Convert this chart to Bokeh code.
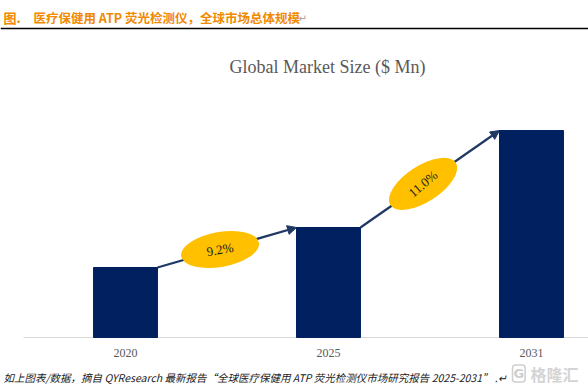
from bokeh.plotting import figure
from bokeh.models import Range1d, Arrow, NormalHead, ColumnDataSource, Label, Span
from bokeh.core.properties import value
from bokeh.embed import file_html
from bokeh.resources import INLINE

# ---- data ----
years = ["2020", "2025", "2031"]
market_size = [70, 110, 207]          # relative bar heights
cagr_labels = ["9.2%", "11.0%"]

header_num = "图."
header_text = "医疗保健用 ATP 荧光检测仪，全球市场总体规模"
chart_title = "Global Market Size ($ Mn)"
footer_text = "如上图表/数据，摘自 QYResearch 最新报告\u201c全球医疗保健用 ATP 荧光检测仪市场研究报告 2025-2031\u201d ."

NAVY = "#002060"
ARROW = "#1F3864"
GOLD = "#FFC000"
ORANGE = "#F08A00"
GREY = "#595959"
SERIF = "Liberation Serif"
CJK = "Noto Sans CJK SC"

W, H = 588, 389
p = figure(width=W, height=H,
           x_range=Range1d(-0.6158, 2.2808), y_range=Range1d(-52, 337),
           x_axis_type=None, y_axis_type=None,
           toolbar_location=None, output_backend="svg",
           min_border=0, outline_line_color=None)
p.background_fill_color = "white"

xs = list(range(len(years)))
bar_w = 0.315

# baseline
p.segment(x0=[-0.5025], y0=[0], x1=[2.2808], y1=[0], line_color="#D9D9D9", line_width=1.2)

# bars
p.vbar(x=xs, top=market_size, bottom=0, width=bar_w, fill_color=NAVY, line_color=NAVY)

# arrows between bars
x0 = [xs[i] + bar_w / 2 for i in range(len(xs) - 1)]
y0 = [market_size[i] for i in range(len(xs) - 1)]
x1 = [xs[i + 1] - bar_w / 2 for i in range(len(xs) - 1)]
y1 = [market_size[i + 1] for i in range(len(xs) - 1)]
asrc = ColumnDataSource(dict(x0=x0, y0=y0, x1=x1, y1=y1))
p.add_layout(Arrow(end=NormalHead(size=9, fill_color=ARROW, line_color=ARROW),
                   source=asrc, x_start="x0", y_start="y0", x_end="x1", y_end="y1",
                   line_color=ARROW, line_width=2.2, level="underlay"))

# CAGR ellipses
cx = [a + 0.45 * (b - a) for a, b in zip(x0, x1)]
cy = [a + 0.45 * (b - a) for a, b in zip(y0, y1)]
p.ellipse(x=cx, y=cy, width=[79, 78], height=[35, 36], angle=[10, 33], angle_units="deg",
          width_units="screen", height_units="screen", fill_color=GOLD, line_color=None)
p.text(x=cx, y=cy, text=cagr_labels, angle=[10, 40], angle_units="deg",
       text_align="center", text_baseline="middle", text_font=value(SERIF),
       text_font_size="13px", text_color="#1a1a1a")

# category labels
p.text(x=xs, y=[-15] * len(xs), text=years, text_align="center", text_baseline="middle",
       text_font=value(SERIF), text_font_size="12px", text_color=GREY)

# header and rule
p.add_layout(Label(x=3, y=372, x_units="screen", y_units="screen", text=header_num,
                   text_font=CJK, text_font_size="13px", text_font_style="bold",
                   text_color=ORANGE, text_baseline="middle"))
p.add_layout(Label(x=33, y=372, x_units="screen", y_units="screen", text=header_text,
                   text_font=CJK, text_font_size="12.5px", text_font_style="bold",
                   text_color=ORANGE, text_baseline="middle"))
p.add_layout(Label(x=298, y=371, x_units="screen", y_units="screen", text="\u21b5",
                   text_font="DejaVu Sans", text_font_size="10px",
                   text_color="#A0A0A0", text_baseline="middle"))
p.add_layout(Span(location=309, dimension="width", line_color="black", line_width=1.5))

# chart title
p.add_layout(Label(x=327, y=323, x_units="screen", y_units="screen", text=chart_title,
                   text_font=SERIF, text_font_size="18px", text_color=GREY,
                   text_align="center", text_baseline="middle"))

# footer
p.add_layout(Label(x=3, y=12, x_units="screen", y_units="screen", text=footer_text + "\u21b5",
                   text_font=CJK, text_font_size="10.5px", text_font_style="italic",
                   text_color="#222222", text_baseline="middle"))

# watermark
p.add_layout(Label(x=512, y=16, x_units="screen", y_units="screen", text="G",
                   text_font="DejaVu Sans", text_font_size="13px", text_font_style="bold",
                   text_color="#CFCFCF", text_baseline="middle",
                   border_line_color="#CFCFCF", border_line_width=1.5, border_radius=3, padding=1))
p.add_layout(Label(x=530, y=16, x_units="screen", y_units="screen", text="格隆汇",
                   text_font=CJK, text_font_size="16px", text_font_style="bold",
                   text_color="#D4D4D4", text_baseline="middle"))

open("out.html", "w").write(file_html(p, INLINE))
